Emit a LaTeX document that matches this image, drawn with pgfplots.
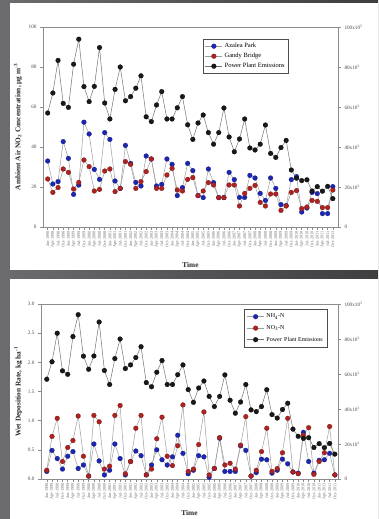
\documentclass[border=0pt]{standalone}
\usepackage{pgfplots}
\pgfplotsset{compat=1.18}
\usepackage{pgfplotstable}
\usepackage{fontspec}
\setmainfont{Liberation Serif}
\definecolor{bgL}{HTML}{6C6C6E}
\definecolor{bgR}{HTML}{3E3E40}
\definecolor{mblue}{HTML}{1C26B4}
\definecolor{mred}{HTML}{B02222}
\definecolor{lgray}{HTML}{8C8C8C}

\pgfplotstableread{
i az gb pp nh no
0 33 24 57 0.13 0.15
1 21.5 17.3 67 0.49 0.73
2 22.7 19.7 83.3 0.35 1.04
3 42.7 29 61.8 0.17 0.30
4 34.3 27.3 59.8 0.39 0.54
5 16.3 19 81.4 0.47 0.66
6 21 22.3 93.9 0.18 1.08
7 52.4 33.5 70.2 0.24 0.39
8 46.5 30.2 62.7 0.05 0.05
9 28.8 18 70.3 0.60 1.09
10 23.8 18.8 89.7 0.31 0.98
11 47.2 28 62 0.07 0.17
12 43.8 29 54 0.15 0.22
13 23 17.7 68.8 0.60 1.09
14 19.3 19.3 80 0.35 1.26
15 40.8 32.7 63.1 0.07 0.09
16 31.8 31.3 65.2 0.30 0.30
17 22.3 19.3 69.4 0.48 0.87
18 20.5 22.7 75.6 0.40 1.09
19 35.5 27.7 55.1 0.07 0.07
20 34 34 52.7 0.24 0.17
21 20.5 19.3 61 0.50 0.69
22 21.3 19.3 67.7 0.33 1.06
23 34 26 54 0.24 0.39
24 31.3 29.3 54 0.38 0.23
25 15.7 18.5 59.6 0.75 0.57
26 19.7 18 65.2 0.44 1.27
27 31.8 23.8 51.1 0.09 0.13
28 28.2 24.7 43.8 0.15 0.17
29 15.7 15.7 52 0.40 0.59
30 14.7 18 56 0.38 1.15
31 29 22.2 47.2 0.03 0.07
32 22.2 21 41.4 0.18 0.18
33 14.7 14.7 47.2 0.70 0.71
34 14.7 14.7 59.5 0.13 0.24
35 27.3 21 45 0.13 0.27
36 23.7 21 37.6 0.13 0.17
37 14.8 10.5 44 0.57 0.58
38 14.8 16.8 54 0.49 1.07
39 25.8 19.3 39.5 0.05 0.05
40 24.5 20.8 38.5 0.11 0.15
41 16.8 12.3 41.4 0.34 0.47
42 13.3 10.5 51 0.33 0.87
43 24.5 16.5 36.8 0.10 0.13
44 19.3 16.5 34.8 0.15 0.18
45 11.2 8.3 39.7 0.34 0.45
46 10.7 10.5 43.3 0.26 1.04
47 23.7 17.3 28.5 0.12 0.12
48 25.2 18.2 24.4 0.10 0.09
49 7.5 9.2 23.2 0.80 0.75
50 9.5 10 23.6 0.30 0.88
51 17.3 13.3 18 0.10 0.08
52 16.7 12.8 20.2 0.32 0.30
53 6.7 9.7 17.9 0.33 0.45
54 6.7 9.7 20.3 0.44 0.90
55 20.2 18.5 14.2 0.07 0.07
}\datatab

\tikzset{lab/.style={font=\bfseries\fontsize{7.3}{8}\selectfont, text=black!85}}
\pgfplotsset{
  twin/.style={scale only axis, anchor=south west,
    axis line style={lgray, line width=0.8pt},
    every tick/.style={lgray, line width=0.5pt},
    tick align=outside, major tick length=3pt,
    tick label style={font=\fontsize{5.2}{6}\selectfont, text=black!70},
    /pgf/number format/assume math mode=true},
  qlab/.style={xtick={0,...,55}, xtick pos=bottom,
    xticklabel style={rotate=90, anchor=east, font=\fontsize{4.3}{4.5}\selectfont, text=black!55, inner sep=1pt},
    xticklabels={Jan-1998,Apr-1998,Jul-1998,Oct-1998,Jan-1999,Apr-1999,Jul-1999,Oct-1999,Jan-2000,Apr-2000,Jul-2000,Oct-2000,Jan-2001,Apr-2001,Jul-2001,Oct-2001,Jan-2002,Apr-2002,Jul-2002,Oct-2002,Jan-2003,Apr-2003,Jul-2003,Oct-2003,Jan-2004,Apr-2004,Jul-2004,Oct-2004,Jan-2005,Apr-2005,Jul-2005,Oct-2005,Jan-2006,Apr-2006,Jul-2006,Oct-2006,Jan-2007,Apr-2007,Jul-2007,Oct-2007,Jan-2008,Apr-2008,Jul-2008,Oct-2008,Jan-2009,Apr-2009,Jul-2009,Oct-2009,Jan-2010,Apr-2010,Jul-2010,Oct-2010,Jan-2011,Apr-2011,Jul-2011,Oct-2011}},
  pline/.style={color=lgray!85, line width=0.5pt, mark=*, mark size=2.4pt},
  pb/.style={pline, mark options={fill=mblue, draw=mblue!60!black, line width=0.2pt}},
  pr/.style={pline, mark options={fill=mred, draw=mred!60!black, line width=0.2pt}},
  pk/.style={pline, color=black!55, mark options={fill=black!90, draw=black, line width=0.2pt}},
}

\begin{document}
\begin{tikzpicture}[x=1pt,y=1pt]
\useasboundingbox (0,0) rectangle (378,519);
\shade[left color=bgL, right color=bgR] (0,0) rectangle (378,519);
\fill[white] (10,249) rectangle (378,516);
\fill[white] (10,0) rectangle (378,240);

% ---------- top chart ----------
\begin{axis}[twin, qlab, at={(43pt,292pt)}, width=295pt, height=200pt,
  xmin=-0.9, xmax=56, ymin=0, ymax=100, ytick={0,20,40,60,80,100}, ytick pos=left,
  ylabel={Ambient Air NO\textsubscript{2} Concentration, µg m\textsuperscript{-3}},
  ylabel style={lab, at={(axis description cs:-0.085,0.5)}, anchor=center},
  xlabel={Time}, xlabel style={lab, at={(axis description cs:0.5,-0.19)}, anchor=center}]
\addplot[pb] table[x=i,y=az]{\datatab};
\addplot[pr] table[x=i,y=gb]{\datatab};
\end{axis}
\begin{axis}[twin, at={(43pt,292pt)}, width=295pt, height=200pt,
  xmin=-0.9, xmax=56, ymin=0, ymax=100, axis x line=none, axis y line*=right,
  ytick={0,20,40,60,80,100},
  yticklabels={0,20x10\textsuperscript{3},40x10\textsuperscript{3},60x10\textsuperscript{3},80x10\textsuperscript{3},100x10\textsuperscript{3}},
  legend style={at={(0.542,0.94)}, anchor=north west, draw=black!70, thin,
    font=\fontsize{6.5}{7.5}\selectfont, inner sep=2pt, cells={anchor=west}},
  legend cell align=left]
\addlegendimage{pb}\addlegendentry{Azalea Park}
\addlegendimage{pr}\addlegendentry{Gandy Bridge}
\addplot[pk] table[x=i,y=pp]{\datatab};
\addlegendentry{Power Plant Emissions}
\end{axis}

% ---------- bottom chart ----------
\begin{axis}[twin, qlab, at={(41pt,40pt)}, width=297pt, height=175pt,
  xmin=-1.1, xmax=55.6, ymin=0, ymax=3, ytick={0,0.5,1,1.5,2,2.5,3}, ytick pos=left,
  yticklabel style={/pgf/number format/.cd, fixed, fixed zerofill, precision=1},
  ylabel={Wet Deposition Rate, kg ha\textsuperscript{-1}},
  ylabel style={lab, at={(axis description cs:-0.077,0.5)}, anchor=center},
  xlabel={Time}, xlabel style={lab, at={(axis description cs:0.5,-0.194)}, anchor=center}]
\addplot[pb] table[x=i,y=nh]{\datatab};
\addplot[pr] table[x=i,y=no]{\datatab};
\end{axis}
\begin{axis}[twin, at={(41pt,40pt)}, width=297pt, height=175pt,
  xmin=-1.1, xmax=55.6, ymin=0, ymax=100, axis x line=none, axis y line*=right,
  ytick={0,20,40,60,80,100},
  yticklabels={0,20x10\textsuperscript{3},40x10\textsuperscript{3},60x10\textsuperscript{3},80x10\textsuperscript{3},100x10\textsuperscript{3}},
  legend style={at={(0.684,0.97)}, anchor=north west, draw=black!70, thin,
    font=\fontsize{6}{7}\selectfont, inner sep=2.5pt, row sep=2pt, cells={anchor=west}},
  legend cell align=left]
\addlegendimage{pb}\addlegendentry{NH\textsubscript{4}-N}
\addlegendimage{pr}\addlegendentry{NO\textsubscript{3}-N}
\addplot[pk] table[x=i,y=pp]{\datatab};
\addlegendentry{Power\, Plant Emissions}
\end{axis}
\end{tikzpicture}
\end{document}
